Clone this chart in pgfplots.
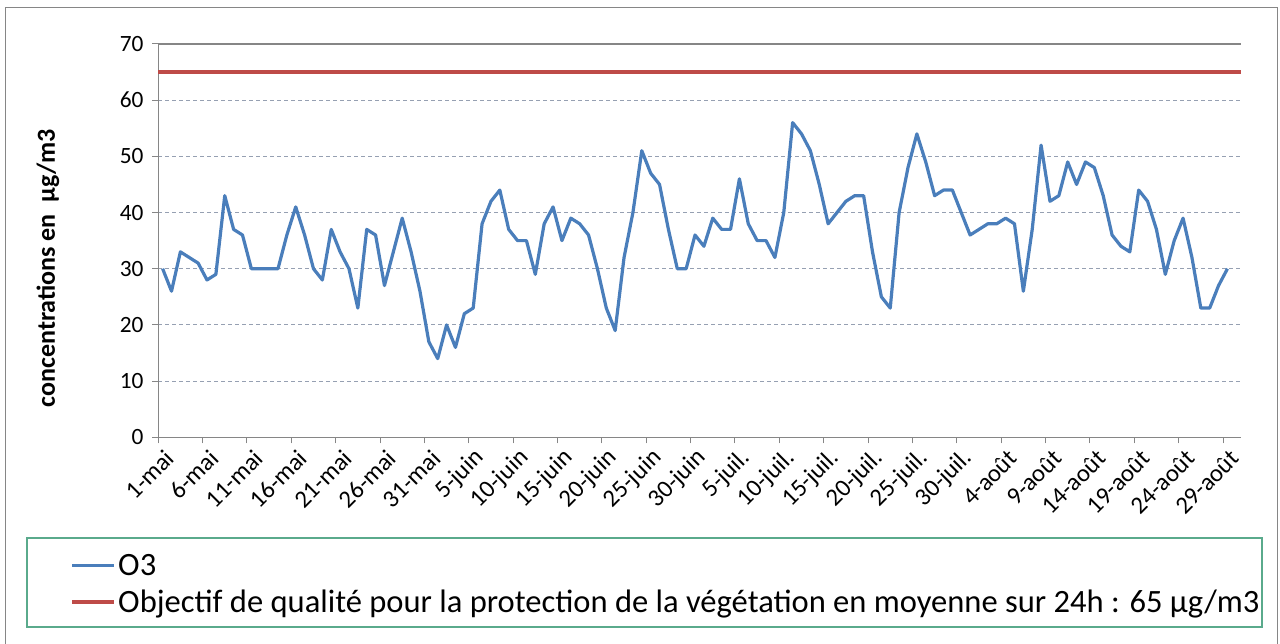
\documentclass[border=0pt]{standalone}
\usepackage{fontspec}
\setmainfont{Carlito}
\usepackage{pgfplots}
\usepackage{pgfplotstable}
\pgfplotsset{compat=1.18}
\definecolor{o3blue}{RGB}{74,126,187}
\definecolor{objred}{RGB}{190,75,72}
\definecolor{gridc}{RGB}{150,160,178}
\definecolor{axc}{RGB}{134,134,134}
\definecolor{legc}{RGB}{90,170,140}

\pgfplotstableread[row sep=\\]{
v\\
30\\26\\33\\32\\31\\28\\29\\43\\37\\36\\
30\\30\\30\\30\\36\\41\\36\\30\\28\\37\\
33\\30\\23\\37\\36\\27\\33\\39\\33\\26\\
17\\14\\20\\16\\22\\23\\38\\42\\44\\37\\
35\\35\\29\\38\\41\\35\\39\\38\\36\\30\\
23\\19\\32\\40\\51\\47\\45\\37\\30\\30\\
36\\34\\39\\37\\37\\46\\38\\35\\35\\32\\
40\\56\\54\\51\\45\\38\\40\\42\\43\\43\\
33\\25\\23\\40\\48\\54\\49\\43\\44\\44\\
40\\36\\37\\38\\38\\39\\38\\26\\37\\52\\
42\\43\\49\\45\\49\\48\\43\\36\\34\\33\\
44\\42\\37\\29\\35\\39\\32\\23\\23\\27\\
30\\
}\othree

\begin{document}
\begin{tikzpicture}
\path[use as bounding box] (0pt,0pt) rectangle (960pt,482.25pt);
\draw[axc, line width=0.75pt] (3.75pt,-10pt) -- (3.75pt,476.25pt) -- (957.75pt,476.25pt) -- (957.75pt,-10pt);
\draw[legc, line width=0.9pt] (20.25pt,12pt) rectangle (946.5pt,78.75pt);
\begin{axis}[
  at={(118.65pt,154.28pt)}, anchor=south west, scale only axis,
  width=811.9pt, height=295pt,
  xmin=0, xmax=122, ymin=0, ymax=70,
  axis x line=bottom, axis y line=left,
  axis line style={axc, line width=0.75pt, -},
  xtick={0,5,...,120},
  xticklabels={1-mai,6-mai,11-mai,16-mai,21-mai,26-mai,31-mai,5-juin,10-juin,15-juin,20-juin,25-juin,30-juin,5-juil.,10-juil.,15-juil.,20-juil.,25-juil.,30-juil.,4-août,9-août,14-août,19-août,24-août,29-août},
  ytick={0,10,...,70},
  tick align=outside, major tick length=4.5pt,
  tick style={axc, line width=0.75pt},
  ymajorgrids,
  major grid style={gridc, line width=0.75pt, dash pattern=on 3pt off 2.25pt},
  extra y ticks={70}, extra y tick labels={},
  extra y tick style={grid=major, major grid style={axc, solid, line width=0.9pt}},
  /pgf/number format/assume math mode=true,
  yticklabel style={font=\fontsize{17.5}{19}\selectfont, text=black, xshift=-3pt},
  xticklabel style={font=\fontsize{18.5}{20}\selectfont, rotate=45, anchor=east, text=black, xshift=4pt, yshift=-12pt},
  ylabel={\bfseries concentrations en\ \ µg/m3},
  ylabel style={font=\fontsize{19.5}{22}\selectfont, at={(axis description cs:-0.1018,0.43)}, anchor=center},
  legend style={at={(axis description cs:-0.0815,-0.293)}, anchor=north west, draw=none, fill=none,
    font=\fontsize{24.4}{29}\selectfont, inner sep=0pt, row sep=7.5pt, nodes={inner xsep=1.5pt, inner ysep=1pt}},
  legend cell align=left,
  legend image code/.code={\draw[#1] (0pt,0pt) -- (31.5pt,0pt);},
]
\addplot[o3blue, line width=2.4pt, line join=round] table[x expr=\coordindex+0.5, y=v] {\othree};
\addlegendentry{O3}
\addplot[objred, line width=3pt] coordinates {(0,65) (122,65)};
\addlegendentry{Objectif de qualité pour la protection de la végétation en moyenne sur 24h : 65 µg/m3}
\end{axis}
\end{tikzpicture}
\end{document}
